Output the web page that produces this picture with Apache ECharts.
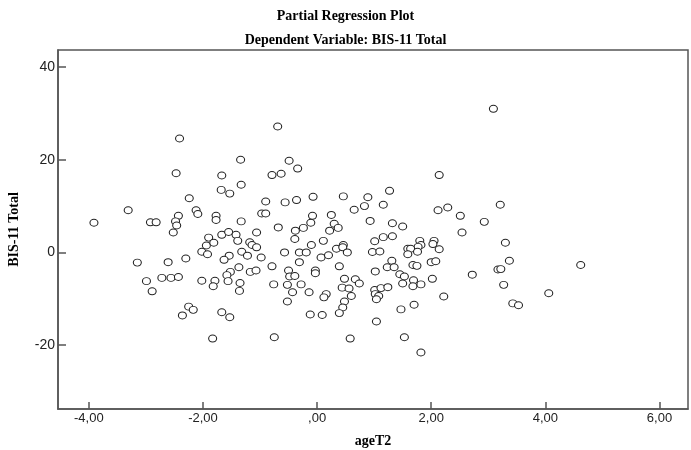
<!DOCTYPE html>
<html>
<head>
<meta charset="utf-8">
<script src="https://cdn.jsdelivr.net/npm/echarts@6/dist/echarts.min.js"></script>
<style>html,body{margin:0;padding:0;background:#fff}#c{width:691px;height:450px}</style>
</head>
<body>
<div id="c"></div>
<script>
var titleText = "Partial Regression Plot";
var subtitleText = "Dependent Variable: BIS-11 Total";
var xAxisName = "ageT2";
var yAxisName = "BIS-11 Total";

var ageT2 = [
-2.41,-2.47,-2.24,-3.31,-3.91,-2.92,-2.82,-2.12,-2.09,-2.43,-2.48,-2.46,-1.77,-1.77,-2.52,-1.90,-1.94,-1.81,-2.02,-1.92,
-3.15,-2.61,-2.30,-2.99,-2.89,-2.72,-2.56,-2.43,-2.02,-1.79,-1.82,-2.25,-2.17,-2.36,-1.83,
-1.33,-0.68,-0.38,-0.24,-0.11,0.30,0.37,0.22,-1.67,-1.55,-1.42,-1.39,-1.06,-1.18,-1.14,-1.06,-1.32,-1.22,-1.54,-1.63,
-0.98,-1.37,-1.52,-1.58,-1.17,-1.07,-1.56,-1.35,-1.36,-0.79,-0.57,-0.39,-0.31,-0.19,-0.10,-0.31,0.07,0.20,0.11,0.34,
0.46,0.45,0.53,0.39,-0.50,-0.48,-0.39,-0.03,-0.03,-0.76,-0.52,-0.28,-0.43,-0.52,-0.14,0.16,0.12,0.48,0.44,0.56,
0.67,0.74,0.60,0.48,0.45,0.39,-0.12,0.09,-1.67,-1.53,-0.75,0.58,
-0.69,-1.34,-0.49,-0.34,-1.67,-0.79,-0.63,-1.33,-1.68,-1.53,-0.90,-0.56,-0.36,-0.07,0.46,0.65,-0.97,-0.90,-0.08,0.25,
3.09,2.14,1.27,0.89,1.16,3.21,0.83,2.12,2.29,2.51,0.93,1.32,1.50,2.93,2.54,1.01,1.16,1.32,0.97,1.10,
1.80,1.82,1.77,1.59,1.64,1.59,1.76,2.05,2.03,2.14,1.31,1.23,1.35,1.02,1.68,1.75,2.00,2.08,1.45,1.53,
1.50,1.69,1.68,1.82,2.02,1.01,1.12,1.24,1.02,1.08,1.04,2.22,1.47,1.70,1.04,1.53,1.82,2.72,3.17,3.22,
3.27,3.30,3.37,3.43,3.53,4.06,4.62
];
var bisTotal = [
24.6,17.1,11.7,9.1,6.4,6.5,6.5,9.1,8.3,7.9,6.7,5.8,7.9,7.0,4.3,3.2,1.5,2.1,0.15,-0.4,
-2.2,-2.1,-1.3,-6.2,-8.4,-5.5,-5.5,-5.3,-6.1,-6.1,-7.3,-11.7,-12.4,-13.6,-18.6,
6.7,5.4,4.7,5.3,6.4,6.2,5.3,4.7,3.8,4.4,3.8,2.5,4.3,2.2,1.6,1.1,0.15,-0.7,-0.7,-1.6,
-1.1,-3.2,-4.2,-4.9,-4.2,-3.9,-6.2,-6.6,-8.3,-3.0,0.0,2.9,0.0,0.0,1.6,-2.1,-1.1,-0.6,2.5,0.8,
1.6,1.1,0.0,-3.0,-3.9,-5.2,-5.1,-3.9,-4.5,-6.9,-7.0,-6.9,-8.6,-10.6,-8.6,-9.0,-9.7,-5.7,-7.6,-7.8,
-5.8,-6.7,-9.4,-10.6,-11.9,-13.1,-13.4,-13.5,-12.9,-14.0,-18.3,-18.6,
27.2,20.0,19.8,18.1,16.6,16.7,17.0,14.6,13.5,12.7,11.0,10.8,11.3,12.0,12.1,9.2,8.4,8.4,7.9,8.1,
31.0,16.7,13.3,11.9,10.3,10.3,10.0,9.1,9.7,7.9,6.8,6.3,5.6,6.6,4.3,2.4,3.3,3.5,0.1,0.2,
2.5,1.6,1.2,0.8,0.8,-0.4,0.15,2.5,1.8,0.7,-1.8,-3.2,-3.2,-4.1,-2.7,-2.9,-2.1,-1.9,-4.7,-5.2,
-6.7,-6.0,-7.3,-6.9,-5.7,-8.1,-7.7,-7.5,-9.0,-9.4,-10.1,-9.5,-12.3,-11.3,-14.9,-18.3,-21.6,-4.8,-3.7,-3.6,
-7.0,2.1,-1.8,-11.0,-11.4,-8.8,-2.7
];

var points = ageT2.map(function (x, i) { return [x, bisTotal[i]]; });

var serif = '"Liberation Serif","Times New Roman",serif';
var sans = '"Liberation Sans",Arial,sans-serif';
function fmtX(v) {
  var s = Math.abs(v).toFixed(2).replace('.', ',');
  if (s.charAt(0) === '0') s = s.slice(1);
  return (v < 0 ? '-' : '') + s;
}

var chart = echarts.init(document.getElementById('c'), null, {renderer: 'canvas'});
chart.setOption({
  animation: false,
  backgroundColor: '#fff',
  title: [
    {text: titleText, left: 'center', top: 4, textStyle: {fontFamily: serif, fontSize: 14, fontWeight: 'bold', color: '#000'}},
    {text: subtitleText, left: 'center', top: 28, textStyle: {fontFamily: serif, fontSize: 14, fontWeight: 'bold', color: '#000'}}
  ],
  grid: {left: 58, right: 3, top: 50, bottom: 41, show: true, borderColor: '#555', borderWidth: 1.5, backgroundColor: '#fff', containLabel: false, outerBoundsMode: 'none'},
  xAxis: {
    type: 'value', min: -4.54, max: 6.5, splitNumber: 5,
    name: xAxisName, nameLocation: 'middle', nameGap: 25,
    nameTextStyle: {fontFamily: serif, fontSize: 14, fontWeight: 'bold', color: '#000'},
    axisLine: {show: true, onZero: false, lineStyle: {color: '#555', width: 1.5}},
    axisTick: {show: true, inside: true, length: 7, lineStyle: {color: '#555', width: 1.5}},
    splitLine: {show: false},
    axisLabel: {showMinLabel: false, showMaxLabel: false, margin: 3, fontFamily: sans, fontSize: 13, color: '#222', formatter: fmtX}
  },
  yAxis: {
    type: 'value', min: -33.8, max: 43.7, splitNumber: 4,
    name: yAxisName, nameLocation: 'middle', nameGap: 37, nameRotate: 90,
    nameTextStyle: {fontFamily: serif, fontSize: 14, fontWeight: 'bold', color: '#000'},
    axisLine: {show: true, onZero: false, lineStyle: {color: '#555', width: 1.5}},
    axisTick: {show: true, inside: true, length: 8, lineStyle: {color: '#555', width: 1.5}},
    splitLine: {show: false},
    axisLabel: {showMinLabel: false, showMaxLabel: false, margin: 3, fontFamily: sans, fontSize: 14, color: '#222'}
  },
  series: [{
    type: 'scatter',
    data: points,
    symbol: 'circle',
    symbolSize: [8, 7],
    itemStyle: {color: '#fff', borderColor: '#222', borderWidth: 1, opacity: 1}
  }]
});
</script>
</body>
</html>
